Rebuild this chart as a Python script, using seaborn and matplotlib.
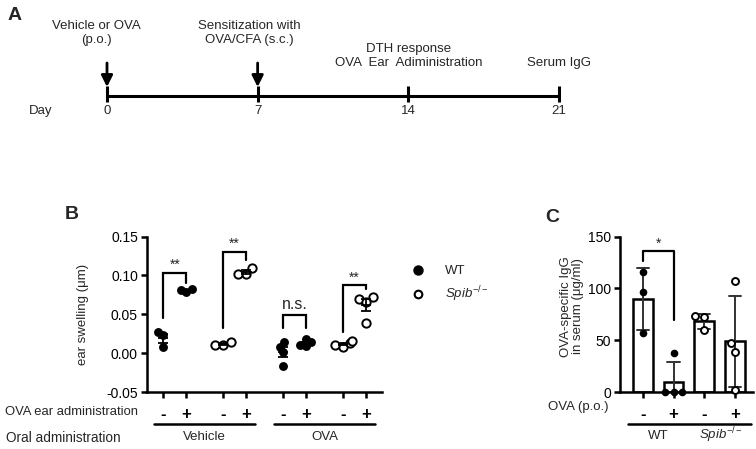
import numpy as np
import pandas as pd
import seaborn as sns
import matplotlib.pyplot as plt
import matplotlib.transforms as mtransforms
from matplotlib.lines import Line2D

# Panel A: experiment timeline
days = [0, 7, 14, 21]
arrow_days = [0, 7]

# Panel B: ear swelling (um), order = Vehicle WT -, +, Spib -, +, OVA WT -, +, Spib -, +
swell_wt_veh_neg = [0.027, 0.023, 0.008]
swell_wt_veh_pos = [0.078, 0.081, 0.082]
swell_ko_veh_neg = [0.010, 0.014, 0.011]
swell_ko_veh_pos = [0.102, 0.102, 0.110]
swell_wt_ova_neg = [0.014, 0.008, 0.001, -0.017]
swell_wt_ova_pos = [0.010, 0.009, 0.014, 0.018]
swell_ko_ova_neg = [0.008, 0.011, 0.013, 0.015]
swell_ko_ova_pos = [0.072, 0.070, 0.066, 0.039]
b_genotype = ['WT', 'WT', 'KO', 'KO', 'WT', 'WT', 'KO', 'KO']
ear_ticklabels = ['-', '+', '-', '+', '-', '+', '-', '+']
oral_labels = ['Vehicle', 'OVA']

# significance brackets for panel B
b_pairs = [(0, 1), (2, 3), (4, 5), (6, 7)]
b_bracket_top = [0.103, 0.130, 0.049, 0.087]
b_bracket_legs = [(0.045, 0.090), (0.032, 0.120), (0.032, 0.032), (0.027, 0.082)]
b_bracket_text = ['**', '**', 'n.s.', '**']

# Panel C: OVA-specific IgG (ug/ml)
igg_wt_neg = [116, 96, 57]
igg_wt_pos = [38, 0, 0, 0]
igg_ko_neg = [72, 73, 60]
igg_ko_pos = [107, 47, 39, 2]
c_order = ['WT-', 'WT+', 'KO-', 'KO+']
c_genotype = ['WT', 'WT', 'KO', 'KO']
c_ticklabels = ['-', '+', '-', '+']
c_bracket = (0, 1, 135.6, 126.6, 69.6, '*')

sns.set_theme(style='ticks')
plt.rcParams['font.family'] = ['Liberation Sans', 'DejaVu Sans']
plt.rcParams['mathtext.fontset'] = 'custom'
plt.rcParams['mathtext.rm'] = 'Liberation Sans'
plt.rcParams['mathtext.it'] = 'Liberation Sans:italic'

W, H = 756, 449
fig = plt.figure(figsize=(W / 100, H / 100), dpi=100)

# ---------------- Panel A ----------------
ax_a = fig.add_axes([0, 1 - 190 / H, 1, 190 / H])
px_day = 21.52
ax_a.set_xlim(-107 / px_day, (W - 107) / px_day)
ax_a.set_ylim(190, 0)
ax_a.axis('off')
line_y = 96
ax_a.plot([days[0], days[-1]], [line_y, line_y], color='black', lw=2.2, solid_capstyle='butt')
ax_a.vlines(days, line_y - 10, line_y + 6, color='black', lw=2.2)
for d in days:
    ax_a.text(d, 111, str(d), ha='center', va='center', fontsize=9.5)
ax_a.text(-3.1, 111, 'Day', ha='center', va='center', fontsize=9.5)
for d in arrow_days:
    ax_a.annotate('', xy=(d, line_y - 9), xytext=(d, 63),
                  arrowprops=dict(arrowstyle='-|>', color='black', lw=2, mutation_scale=17,
                                  shrinkA=0, shrinkB=0))
ax_a.text(days[0] - 0.5, 33, 'Vehicle or OVA\n(p.o.)', ha='center', va='center', fontsize=9.5, linespacing=1.25)
ax_a.text(days[1] - 0.4, 33, 'Sensitization with\nOVA/CFA (s.c.)', ha='center', va='center', fontsize=9.5, linespacing=1.25)
ax_a.text(days[2], 49, 'DTH response', ha='center', va='center', fontsize=9.5)
ax_a.text(days[2], 63, 'OVA  Ear  Adiministration', ha='center', va='center', fontsize=9.5)
ax_a.text(days[3], 63, 'Serum IgG', ha='center', va='center', fontsize=9.5)
fig.text(8 / W, 1 - 16 / H, 'A', fontsize=14, fontweight='bold', va='center')

# ---------------- Panel B ----------------
b_groups = [swell_wt_veh_neg, swell_wt_veh_pos, swell_ko_veh_neg, swell_ko_veh_pos,
            swell_wt_ova_neg, swell_wt_ova_pos, swell_ko_ova_neg, swell_ko_ova_pos]
rows = []
for g, vals in enumerate(b_groups):
    for v in vals:
        rows.append({'group': g, 'geno': b_genotype[g], 'val': v})
df_b = pd.DataFrame(rows)
pair_step = 2.55
df_b['pos'] = (df_b['group'] // 2) * pair_step + df_b['group'] % 2
positions = [(g // 2) * pair_step + g % 2 for g in range(8)]

ax_b = fig.add_axes([147 / W, 1 - 392 / H, 235 / W, 155.5 / H])
# swarm computed for small dots, then drawn bigger so they overlap like in the figure
n0 = len(ax_b.collections)
sns.swarmplot(data=df_b[df_b['geno'] == 'WT'], x='pos', y='val', native_scale=True, orient='x',
              color='black', size=4.3, ax=ax_b, zorder=3)
n1 = len(ax_b.collections)
sns.swarmplot(data=df_b[df_b['geno'] == 'KO'], x='pos', y='val', native_scale=True, orient='x',
              color='white', edgecolor='black', linewidth=1.4, size=4.3, ax=ax_b, zorder=3)
n2 = len(ax_b.collections)
swarm_wt = ax_b.collections[n0:n1]
swarm_ko = ax_b.collections[n1:n2]

stats = df_b.groupby('pos')['val'].agg(['mean', 'sem']).reset_index()
ax_b.errorbar(stats['pos'], stats['mean'], yerr=stats['sem'], fmt='none', ecolor='black',
              elinewidth=1.3, capsize=3.5, capthick=1.3, zorder=4)
ax_b.hlines(stats['mean'], stats['pos'] - 0.22, stats['pos'] + 0.22, color='black', lw=1.3, zorder=4)

for (i, j), top, (lb, rb), txt in zip(b_pairs, b_bracket_top, b_bracket_legs, b_bracket_text):
    xi, xj = positions[i], positions[j]
    ax_b.plot([xi, xi, xj, xj], [lb, top, top, rb], color='black', lw=1.6, solid_joinstyle='miter')
    if txt == 'n.s.':
        ax_b.text((xi + xj) / 2, top + 0.004, txt, ha='center', va='bottom', fontsize=11.5)
    else:
        ax_b.text((xi + xj) / 2, top + 0.001, txt, ha='center', va='bottom', fontsize=10)

ax_b.set_xlim(-0.68, 9.32)
ax_b.set_ylim(-0.05, 0.15)
ax_b.set_yticks([-0.05, 0, 0.05, 0.10, 0.15])
ax_b.set_yticklabels(['-0.05', '0.00', '0.05', '0.10', '0.15'])
ax_b.set_xticks(positions)
ax_b.set_xticklabels(ear_ticklabels, fontsize=12, fontweight='bold')
ax_b.set_xlabel('')
ax_b.set_ylabel('ear swelling (μm)', fontsize=9.5)
ax_b.yaxis.set_label_coords(-0.245, 0.5)
ax_b.tick_params(axis='both', width=1.8, length=4.5, color='black', labelcolor='black')
ax_b.tick_params(axis='y', labelsize=10, pad=2)
ax_b.tick_params(axis='x', pad=6)
sns.despine(ax=ax_b)
for s in ['left', 'bottom']:
    ax_b.spines[s].set_linewidth(1.8)
    ax_b.spines[s].set_color('black')

trans_b = mtransforms.blended_transform_factory(ax_b.transData, ax_b.transAxes)
for k, lab in enumerate(oral_labels):
    c = (positions[4 * k] + positions[4 * k + 3]) / 2
    ax_b.plot([c - 2.15, c + 2.15], [-0.206, -0.206], transform=trans_b, color='black', lw=1.8, clip_on=False)
    ax_b.text(c, -0.292, lab, transform=trans_b, ha='center', va='center', fontsize=9.5)
fig.text(5 / W, 1 - 412 / H, 'OVA ear administration', va='center', fontsize=9.4)
fig.text(6 / W, 1 - 438 / H, 'Oral administration', va='center', fontsize=9.8)
fig.text(65 / W, 1 - 215 / H, 'B', fontsize=14, fontweight='bold', va='center')

handles = [Line2D([], [], marker='o', ls='none', color='black', markersize=6.5),
           Line2D([], [], marker='o', ls='none', markerfacecolor='white', markeredgecolor='black',
                  markeredgewidth=1.5, markersize=5.5)]
fig.legend(handles, ['WT', r'$\it{Spib}^{-/-}$'], loc='upper left', bbox_to_anchor=(411 / W, 1 - 265 / H),
           frameon=False, handlelength=1.0, handletextpad=1.6, labelspacing=0.55, borderpad=0,
           borderaxespad=0, fontsize=9.5)

# ---------------- Panel C ----------------
c_groups = [igg_wt_neg, igg_wt_pos, igg_ko_neg, igg_ko_pos]
rows = []
for g, vals in enumerate(c_groups):
    for v in vals:
        rows.append({'grp': c_order[g], 'geno': c_genotype[g], 'igg': v})
df_c = pd.DataFrame(rows)

ax_c = fig.add_axes([620 / W, 1 - 392 / H, 133 / W, 155.5 / H])
sns.barplot(data=df_c, x='grp', y='igg', order=c_order, errorbar='sd', color='white',
            edgecolor='black', linewidth=1.8, width=0.65, capsize=0.4,
            err_kws={'color': '0.2', 'linewidth': 1.4}, ax=ax_c)
sns.swarmplot(data=df_c[df_c['geno'] == 'WT'], x='grp', y='igg', order=c_order, color='black',
              size=5.5, ax=ax_c, zorder=4, clip_on=False)
sns.swarmplot(data=df_c[df_c['geno'] == 'KO'], x='grp', y='igg', order=c_order, color='white',
              edgecolor='black', linewidth=1.4, size=5.0, ax=ax_c, zorder=4, clip_on=False)
i, j, top, lb, rb, txt = c_bracket
ax_c.plot([i, i, j, j], [lb, top, top, rb], color='black', lw=1.6)
ax_c.text((i + j) / 2, top + 1, txt, ha='center', va='bottom', fontsize=10)

ax_c.set_xlim(-0.75, 3.6)
ax_c.set_ylim(0, 150)
ax_c.set_yticks([0, 50, 100, 150])
ax_c.set_xticks(range(4))
ax_c.set_xticklabels(c_ticklabels, fontsize=12, fontweight='bold')
ax_c.set_xlabel('')
ax_c.set_ylabel('OVA-specific IgG\nin serum (μg/ml)', fontsize=9.5, linespacing=1.0)
ax_c.yaxis.set_label_coords(-0.27, 0.55)
ax_c.tick_params(axis='both', width=1.8, length=4.5, color='black', labelcolor='black')
ax_c.tick_params(axis='y', labelsize=10, pad=2)
ax_c.tick_params(axis='x', pad=6)
sns.despine(ax=ax_c)
for s in ['left', 'bottom']:
    ax_c.spines[s].set_linewidth(1.8)
    ax_c.spines[s].set_color('black')

trans_c = mtransforms.blended_transform_factory(ax_c.transData, ax_c.transAxes)
for c, lab in zip([0.5, 2.55], ['WT', r'$\it{Spib}^{-/-}$']):
    ax_c.plot([c - 1.0, c + 1.0], [-0.206, -0.206], transform=trans_c, color='black', lw=1.8, clip_on=False)
    ax_c.text(c, -0.281, lab, transform=trans_c, ha='center', va='center', fontsize=9.5)
fig.text(548 / W, 1 - 407 / H, 'OVA (p.o.)', va='center', fontsize=9.5)
fig.text(545 / W, 1 - 217 / H, 'C', fontsize=14, fontweight='bold', va='center')

# lay out the swarms once, then freeze them and enlarge the dots
fig.canvas.draw()
for coll in swarm_wt + swarm_ko:
    if 'draw' in coll.__dict__:
        del coll.draw
    coll.set_sizes([(6.4 if coll in swarm_wt else 6.0) ** 2])

fig.savefig('out.png', dpi=100)
